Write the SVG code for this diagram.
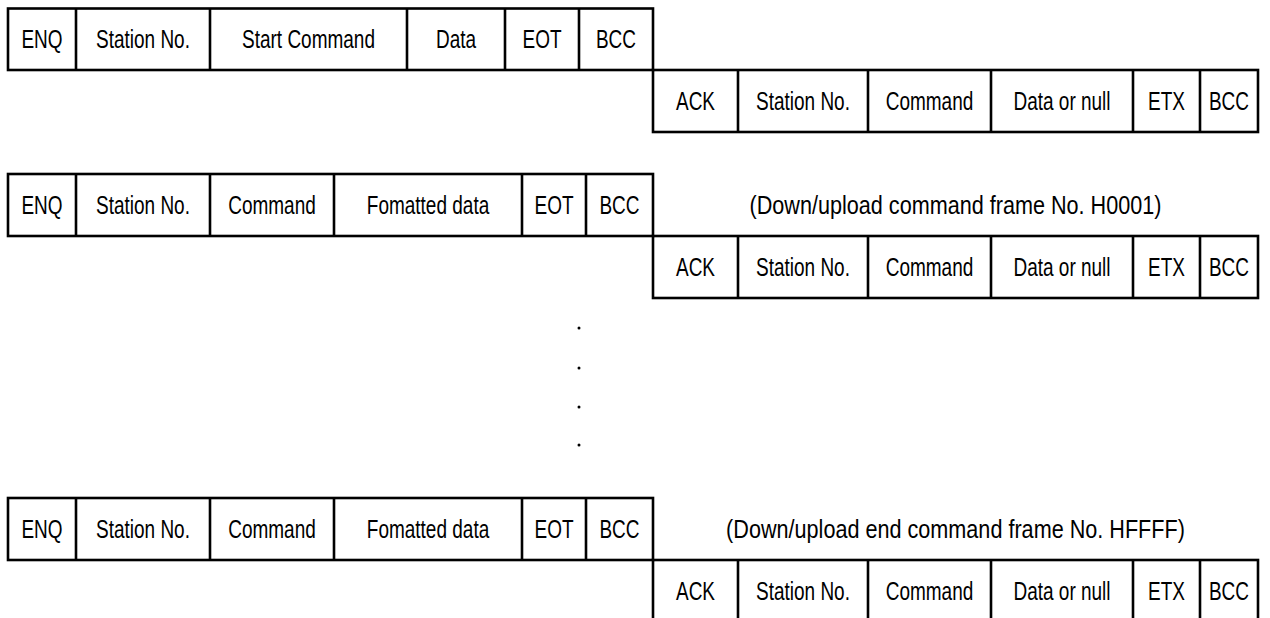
<svg xmlns="http://www.w3.org/2000/svg" width="1270" height="618" viewBox="0 0 1270 618">
<style>
.box{fill:none;stroke:#000;stroke-width:2.6}
.div{stroke:#000;stroke-width:2.6}
text{font-family:"Liberation Sans",Arial,sans-serif;font-size:25px;fill:#000;text-anchor:middle}
</style>
<rect width="1270" height="618" fill="#fff"/>
<g id="frame1-enq">
<rect class="box" x="8" y="8.5" width="645" height="61.5"/>
<path class="div" d="M76 8.5V70M210 8.5V70M407 8.5V70M505 8.5V70M579 8.5V70"/>
<g transform="translate(42,48) scale(0.76,1)"><text>ENQ</text></g>
<g transform="translate(143,48) scale(0.76,1)"><text>Station No.</text></g>
<g transform="translate(308.5,48) scale(0.76,1)"><text>Start Command</text></g>
<g transform="translate(456,48) scale(0.76,1)"><text>Data</text></g>
<g transform="translate(542,48) scale(0.76,1)"><text>EOT</text></g>
<g transform="translate(616,48) scale(0.76,1)"><text>BCC</text></g>
</g>
<g id="frame1-ack">
<rect class="box" x="653" y="70" width="605" height="62"/>
<path class="div" d="M738 70V132M868 70V132M991 70V132M1133 70V132M1200 70V132"/>
<g transform="translate(695.5,110) scale(0.76,1)"><text>ACK</text></g>
<g transform="translate(803,110) scale(0.76,1)"><text>Station No.</text></g>
<g transform="translate(929.5,110) scale(0.76,1)"><text>Command</text></g>
<g transform="translate(1062,110) scale(0.76,1)"><text>Data or null</text></g>
<g transform="translate(1166.5,110) scale(0.76,1)"><text>ETX</text></g>
<g transform="translate(1229,110) scale(0.76,1)"><text>BCC</text></g>
</g>
<g id="frame2-enq">
<rect class="box" x="8" y="174" width="645" height="62"/>
<path class="div" d="M76 174V236M210 174V236M334 174V236M522 174V236M586 174V236"/>
<g transform="translate(42,214) scale(0.76,1)"><text>ENQ</text></g>
<g transform="translate(143,214) scale(0.76,1)"><text>Station No.</text></g>
<g transform="translate(272,214) scale(0.76,1)"><text>Command</text></g>
<g transform="translate(428,214) scale(0.76,1)"><text>Fomatted data</text></g>
<g transform="translate(554,214) scale(0.76,1)"><text>EOT</text></g>
<g transform="translate(619.5,214) scale(0.76,1)"><text>BCC</text></g>
</g>
<g id="label-h0001">
<g transform="translate(955.5,214) scale(0.865,1)"><text>(Down/upload command frame No. H0001)</text></g>
</g>
<g id="frame2-ack">
<rect class="box" x="653" y="236" width="605" height="62"/>
<path class="div" d="M738 236V298M868 236V298M991 236V298M1133 236V298M1200 236V298"/>
<g transform="translate(695.5,276) scale(0.76,1)"><text>ACK</text></g>
<g transform="translate(803,276) scale(0.76,1)"><text>Station No.</text></g>
<g transform="translate(929.5,276) scale(0.76,1)"><text>Command</text></g>
<g transform="translate(1062,276) scale(0.76,1)"><text>Data or null</text></g>
<g transform="translate(1166.5,276) scale(0.76,1)"><text>ETX</text></g>
<g transform="translate(1229,276) scale(0.76,1)"><text>BCC</text></g>
</g>
<g id="ellipsis">
<circle cx="579" cy="328" r="1.5"/>
<circle cx="579" cy="368" r="1.5"/>
<circle cx="579" cy="407" r="1.5"/>
<circle cx="579" cy="445" r="1.5"/>
</g>
<g id="frame3-enq">
<rect class="box" x="8" y="498" width="645" height="62"/>
<path class="div" d="M76 498V560M210 498V560M334 498V560M522 498V560M586 498V560"/>
<g transform="translate(42,538) scale(0.76,1)"><text>ENQ</text></g>
<g transform="translate(143,538) scale(0.76,1)"><text>Station No.</text></g>
<g transform="translate(272,538) scale(0.76,1)"><text>Command</text></g>
<g transform="translate(428,538) scale(0.76,1)"><text>Fomatted data</text></g>
<g transform="translate(554,538) scale(0.76,1)"><text>EOT</text></g>
<g transform="translate(619.5,538) scale(0.76,1)"><text>BCC</text></g>
</g>
<g id="label-hffff">
<g transform="translate(955.5,538) scale(0.865,1)"><text>(Down/upload end command frame No. HFFFF)</text></g>
</g>
<g id="frame3-ack">
<rect class="box" x="653" y="560" width="605" height="64"/>
<path class="div" d="M738 560V624M868 560V624M991 560V624M1133 560V624M1200 560V624"/>
<g transform="translate(695.5,600) scale(0.76,1)"><text>ACK</text></g>
<g transform="translate(803,600) scale(0.76,1)"><text>Station No.</text></g>
<g transform="translate(929.5,600) scale(0.76,1)"><text>Command</text></g>
<g transform="translate(1062,600) scale(0.76,1)"><text>Data or null</text></g>
<g transform="translate(1166.5,600) scale(0.76,1)"><text>ETX</text></g>
<g transform="translate(1229,600) scale(0.76,1)"><text>BCC</text></g>
</g>
<g id="connectors"></g>
</svg>
